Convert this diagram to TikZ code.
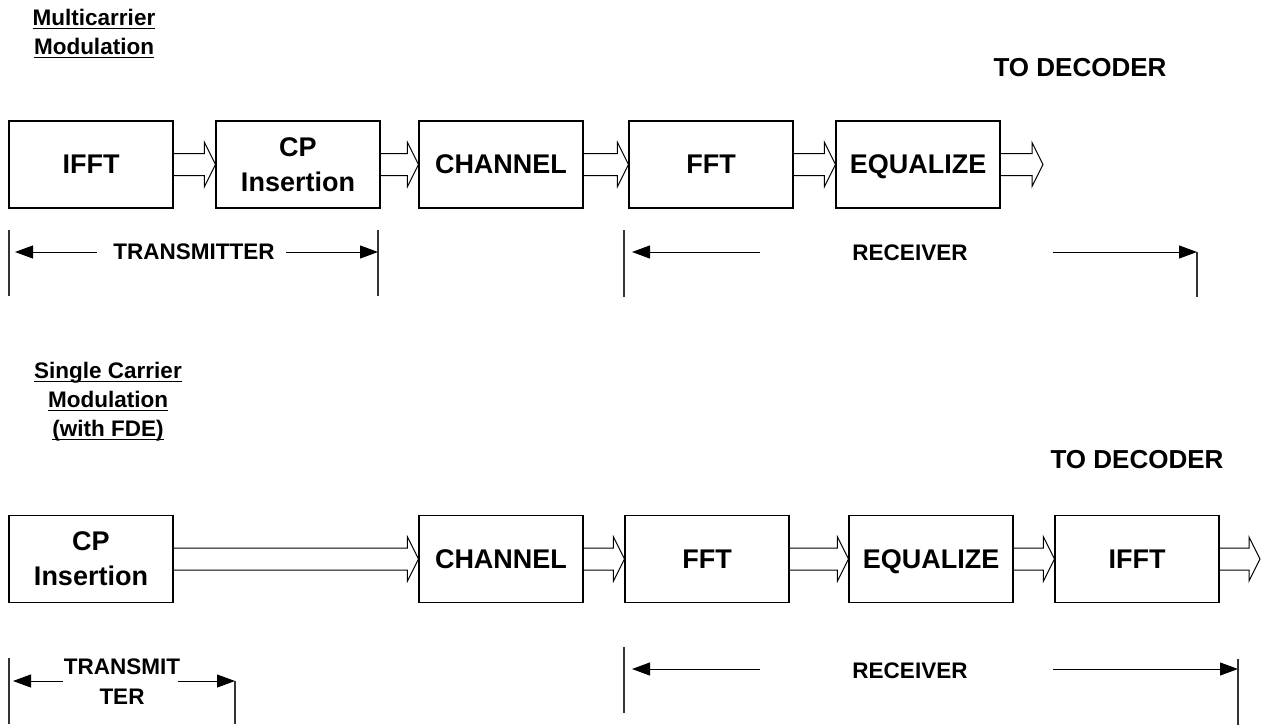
\documentclass[tikz,border=0pt]{standalone}
\usepackage{fontspec}
\setmainfont{Liberation Sans}
\usetikzlibrary{calc,arrows.meta}
\newcommand{\myul}[1]{\setbox0\hbox{#1}\rlap{\rule[-3.5pt]{\wd0}{1.6pt}}\box0}
\newcommand{\barrow}[2]{\draw[barr] ($(#1)+(0,11)$) -- ($(#2)+(-11,11)$) -- ($(#2)+(-11,22)$) -- (#2) -- ($(#2)+(-11,-22)$) -- ($(#2)+(-11,-11)$) -- ($(#1)+(0,-11)$);}
\begin{document}
\begin{tikzpicture}[x=1pt,y=-1pt,
  box/.style={draw, line width=1.1pt, minimum width=164pt, minimum height=87pt, inner sep=0pt,
    font=\fontsize{27}{35}\selectfont\bfseries, align=center},
  barr/.style={line width=1pt, line join=miter},
  dimarr/.style={line width=1pt, -{Triangle[length=18pt,width=13pt]}},
  ext/.style={line width=1.1pt, draw=black!80},
  lbl/.style={font=\fontsize{22.5}{30}\selectfont\bfseries, inner sep=0pt, align=center},
  ttl/.style={font=\fontsize{22.5}{29}\selectfont\bfseries, inner sep=0pt, align=center},
  dec/.style={font=\fontsize{26}{30}\selectfont\bfseries, inner sep=0pt}]
\useasboundingbox (0,0) rectangle (1261,726);

% ---------- Titles ----------
\node[ttl] (t1) at (94,34) {\myul{Multicarrier}\\\myul{Modulation}};
\node[ttl] (t2) at (108,402) {\myul{Single Carrier}\\\myul{Modulation}\\\myul{(with FDE)}};
\node[dec] (dec1) at (1080,68) {TO DECODER};
\node[dec] (dec2) at (1137,460) {TO DECODER};

% ---------- Top row ----------
\node[box] (ifftA) at (91,164.5) {IFFT};
\node[box] (cpA) at (298,164.5) {CP\\Insertion};
\node[box] (chA) at (501,164.5) {CHANNEL};
\node[box] (fftA) at (711,164.5) {FFT};
\node[box] (eqA) at (918,164.5) {E\smash{Q}UALIZE};
\coordinate (outA) at (1043,164.5);

\barrow{ifftA.east}{cpA.west}
\barrow{cpA.east}{chA.west}
\barrow{chA.east}{fftA.west}
\barrow{fftA.east}{eqA.west}
\barrow{eqA.east}{outA}

% ---------- Bottom row ----------
\node[box] (cpB) at (91,559) {CP\\Insertion};
\node[box] (chB) at (501,559) {CHANNEL};
\node[box] (fftB) at (707,559) {FFT};
\node[box] (eqB) at (931,559) {E\smash{Q}UALIZE};
\node[box] (ifftB) at (1137,559) {IFFT};
\coordinate (outB) at (1260,559);

\barrow{cpB.east}{chB.west}
\barrow{chB.east}{fftB.west}
\barrow{fftB.east}{eqB.west}
\barrow{eqB.east}{ifftB.west}
\barrow{ifftB.east}{outB}

% ---------- Top dimension lines ----------
\coordinate (txAl1) at (9,230);   \coordinate (txAl2) at (9,296);
\coordinate (txAr1) at (378,230); \coordinate (txAr2) at (378,296);
\draw[ext] (txAl1) -- (txAl2);
\draw[ext] (txAr1) -- (txAr2);
\node[lbl] (txA) at (194,252) {TRANSMITTER};
\coordinate (txAls) at (97,252);  \coordinate (txAlt) at (15,252);
\coordinate (txArs) at (286,252); \coordinate (txArt) at (378,252);
\draw[dimarr] (txAls) -- (txAlt);
\draw[dimarr] (txArs) -- (txArt);

\coordinate (rxAl1) at (624,230); \coordinate (rxAl2) at (624,297);
\draw[ext] (rxAl1) -- (rxAl2);
\node[lbl] (rxA) at (910,253) {RECEIVER};
\coordinate (rxAls) at (760,252);  \coordinate (rxAlt) at (632,252);
\coordinate (rxArs) at (1053,252); \coordinate (rxArt) at (1197,252);
\coordinate (rxAr2) at (1197,297);
\draw[dimarr] (rxAls) -- (rxAlt);
\draw[dimarr] (rxArs) -- (rxArt);
\draw[ext] (rxArt) -- (rxAr2);

% ---------- Bottom dimension lines ----------
\coordinate (txBl1) at (9,658);  \coordinate (txBl2) at (9,724);
\draw[ext] (txBl1) -- (txBl2);
\node[lbl] (txB) at (122,682) {TRANSMIT\\TER};
\coordinate (txBls) at (63,681);  \coordinate (txBlt) at (13,681);
\coordinate (txBrs) at (178,681); \coordinate (txBrt) at (235,681);
\coordinate (txBr2) at (235,724);
\draw[dimarr] (txBls) -- (txBlt);
\draw[dimarr] (txBrs) -- (txBrt);
\draw[ext] (txBrt) -- (txBr2);

\coordinate (rxBl1) at (624,647); \coordinate (rxBl2) at (624,713);
\draw[ext] (rxBl1) -- (rxBl2);
\node[lbl] (rxB) at (910,671) {RECEIVER};
\coordinate (rxBls) at (760,669);  \coordinate (rxBlt) at (632,669);
\coordinate (rxBrs) at (1053,669); \coordinate (rxBrt) at (1238,669);
\coordinate (rxBr1) at (1238,659); \coordinate (rxBr2) at (1238,725);
\draw[dimarr] (rxBls) -- (rxBlt);
\draw[dimarr] (rxBrs) -- (rxBrt);
\draw[ext] (rxBr1) -- (rxBr2);
\end{tikzpicture}
\end{document}
